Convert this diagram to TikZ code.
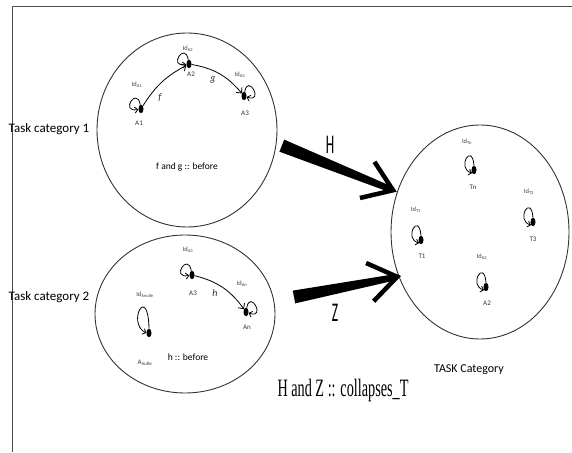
\documentclass[tikz,border=0pt]{standalone}
\usepackage{fontspec}
\usepackage{graphicx}
\setmainfont{Carlito}
\newfontfamily\condserif{Liberation Serif}
\usetikzlibrary{shapes.geometric,arrows.meta,calc}

\newcommand{\idsub}[1]{Id\textsubscript{#1}}

\begin{document}
\begin{tikzpicture}[x=1pt,y=1pt,
    catbox/.style={draw=black!80,line width=0.9pt,ellipse,inner sep=0pt,outer sep=0pt},
    elem/.style={ellipse,fill=black,inner sep=0pt,minimum width=5pt,minimum height=8.5pt},
    idlab/.style={font=\fontsize{6.5}{7}\selectfont,text=black!75},
    elemlab/.style={font=\fontsize{7}{8}\selectfont,text=black!80},
    rellab/.style={font=\itshape\fontsize{10}{11}\selectfont,text=black!80},
    rel/.style={line width=0.8pt,-{Straight Barb[length=4pt,width=8pt]}},
    idtip/.style={line width=0.8pt,-{Straight Barb[length=3pt,width=6pt]}},
    idloop/.style={loop,idtip,min distance=19pt},
    bigwing/.style={line width=4.5pt,line cap=butt}]
    \useasboundingbox (0,0) rectangle (572,452);
    \draw[line width=1pt,black!70] (572,445) -- (12,445) -- (12,0);

    % the three categories
    \node[catbox,minimum width=180pt,minimum height=194pt] (cat1) at (187,322) {};
    \node[catbox,minimum width=180pt,minimum height=158pt] (cat2) at (185,138) {};
    \node[catbox,minimum width=178pt,minimum height=214pt] (taskcat) at (480,220) {};

    \node[font=\fontsize{13}{14}\selectfont] (cat1lab) at (49,323) {Task category 1};
    \node[font=\fontsize{13}{14}\selectfont] (cat2lab) at (49,155) {Task category 2};
    \node[font=\fontsize{12}{13}\selectfont] (tasklab) at (469,82) {TASK Category};

    % category 1: A1 -f-> A2 -g-> A3
    \node[elem] (a1) at (141,343) {};
    \node[elem] (a2) at (189,388) {};
    \node[elem] (a3) at (244,356) {};
    \node[elemlab] (a1lab) at (139,329) {A1};
    \node[elemlab] (a2lab) at (191,378) {A2};
    \node[elemlab] (a3lab) at (245,339) {A3};
    \node[idlab] (a1id) at (137,367) {\idsub{A1}};
    \node[idlab] (a2id) at (188,403) {\idsub{A2}};
    \node[idlab] (a3id) at (240,377) {\idsub{A3}};
    \draw (a1) edge[idloop,out=100,in=190] (a1);
    \draw (a2) edge[idloop,out=100,in=190] (a2);
    \draw (a3) edge[idloop,out=80,in=-20] (a3);
    \draw[rel] (a1) to[bend left=15] (a2);
    \draw[rel] (a2) to[bend left=20] (a3);
    \node[rellab] (flab) at (160,354) {f};
    \node[rellab] (glab) at (213,372) {g};
    \node[font=\fontsize{9.5}{10}\selectfont] (fgrule) at (187,285) {f and g :: before};

    % category 2: A3 -h-> An, plus Anulle
    \node[elem] (b3) at (192,177) {};
    \node[elem] (bn) at (246,140) {};
    \node[elem] (bnul) at (149,119) {};
    \node[elemlab] (b3lab) at (193,159) {A3};
    \node[elemlab] (bnlab) at (247,125) {An};
    \node[elemlab] (bnullab) at (145,89) {A\textsubscript{nulle}};
    \node[idlab] (b3id) at (188,202) {\idsub{A3}};
    \node[idlab] (bnid) at (242,168) {\idsub{An}};
    \node[idlab] (bnulid) at (145,157) {\idsub{Anulle}};
    \draw (b3) edge[idloop,out=100,in=190] (b3);
    \draw (bn) edge[idloop,out=80,in=-20] (bn);
    \draw[idtip] (bnul.north) .. controls +(-1,46) and +(-20,10) .. (bnul.west);
    \draw[rel] (b3) to[bend left=20] (bn);
    \node[rellab] (hrel) at (215,159) {h};
    \node[font=\fontsize{9.5}{10}\selectfont] (hrule) at (188,95) {h :: before};

    % task category
    \node[elem] (tn) at (474,282) {};
    \node[elem] (t3) at (533,230) {};
    \node[elem] (t1) at (421,212) {};
    \node[elem] (ta2) at (486,165) {};
    \node[elemlab] (tnlab) at (473,265) {Tn};
    \node[elemlab] (t3lab) at (533,213) {T3};
    \node[elemlab] (t1lab) at (422,196) {T1};
    \node[elemlab] (ta2lab) at (487,149) {A2};
    \node[idlab] (tnid) at (467,310) {\idsub{Tn}};
    \node[idlab] (t3id) at (529,260) {\idsub{T3}};
    \node[idlab] (t1id) at (416,242) {\idsub{T1}};
    \node[idlab] (ta2id) at (482,195) {\idsub{A2}};
    \foreach \t in {tn,t3,t1,ta2}
        \draw[idtip] (\t.north) .. controls +(-2,24) and +(-16,5) .. (\t.south west);

    % collapsing arrows H and Z
    \coordinate (Hs) at ([xshift=6pt]cat1.-10);
    \coordinate (Ht) at ([xshift=-5pt]taskcat.153);
    \coordinate (Zs) at ([shift={(19,17)}]cat2.east);
    \coordinate (Zt) at ([xshift=-2pt]taskcat.209);
    \foreach \s/\e in {Hs/Ht,Zs/Zt}{
        \fill ($(\s)!6.5pt!90:(\e)$) -- ($(\e)!3pt!-90:(\s)$)
            -- ($(\e)!3pt!90:(\s)$) -- ($(\s)!6.5pt!-90:(\e)$) -- cycle;
        \draw[bigwing] ($(\e)!34pt!35:(\s)$) -- (\e) -- ($(\e)!34pt!-35:(\s)$);
    }
    \node (Hlab) at (330,307) {\scalebox{0.5}[1]{\fontsize{27}{27}\selectfont H}};
    \node (Zlab) at (335,139) {\scalebox{0.5}[1]{\fontsize{27}{27}\selectfont Z}};

    \node (collapse) at (343,62)
        {\scalebox{0.57}[1]{\condserif\fontsize{25}{26}\selectfont H and Z :: collapses\_T}};
\end{tikzpicture}
\end{document}
